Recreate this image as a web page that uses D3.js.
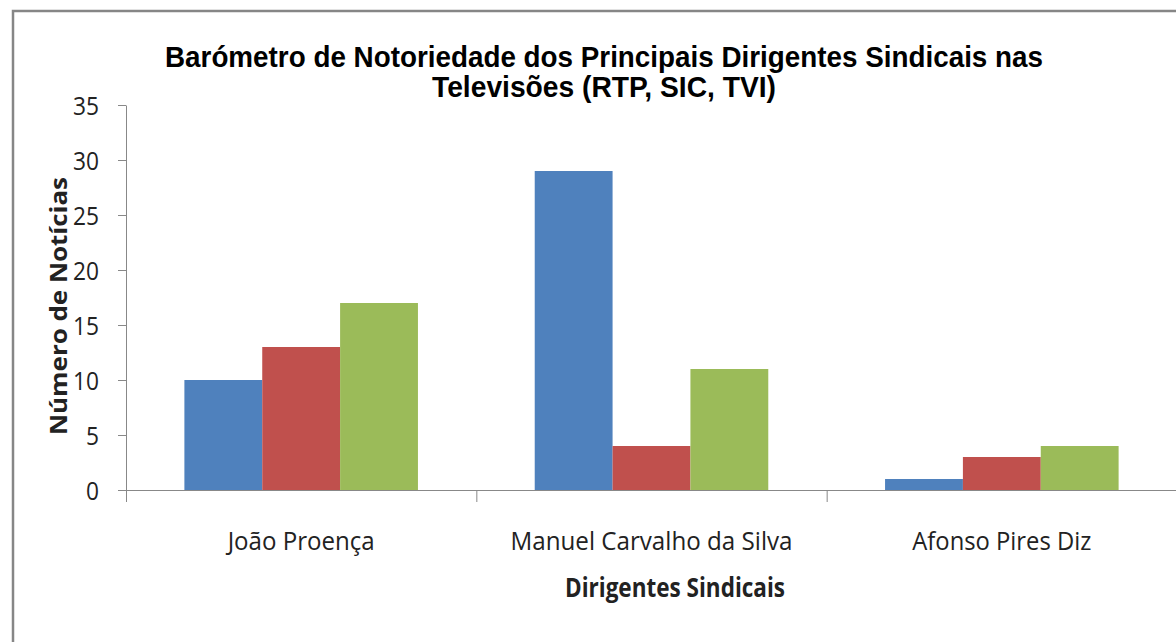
<!DOCTYPE html>
<html>
<head>
<meta charset="utf-8">
<script src="https://cdn.jsdelivr.net/npm/d3@7"></script>
<style>
  body { margin: 0; background: #fff; }
  text { font-family: "Open Sans", sans-serif; fill: #222; }
  .title { font-family: "Liberation Sans", Arial, sans-serif; font-weight: bold; fill: #000; }
</style>
</head>
<body>
<script>
// data
const dirigentes = ["João Proença", "Manuel Carvalho da Silva", "Afonso Pires Diz"];
const canais = ["RTP", "SIC", "TVI"];
const rtp = [10, 29, 1];
const sic = [13, 4, 3];
const tvi = [17, 11, 4];
const yTicks = [0, 5, 10, 15, 20, 25, 30, 35];
const colors = ["#4F81BD", "#C0504D", "#9BBB59"];

let width = 1176, height = 642;
let plotLeft = 126, plotRight = 1177, plotTop = 105, plotBottom = 490;

let svg = d3.select("body").append("svg")
  .attr("width", width)
  .attr("height", height);

// chart border (runs off the right / bottom like the original)
svg.append("rect")
  .attr("x", 13).attr("y", 11)
  .attr("width", 1200).attr("height", 700)
  .attr("fill", "none")
  .attr("stroke", "#868686")
  .attr("stroke-width", 2.5);

//title
svg.append("text")
  .attr("class", "title")
  .attr("x", 604).attr("y", 67)
  .attr("text-anchor", "middle")
  .attr("textLength", 878).attr("lengthAdjust", "spacingAndGlyphs")
  .style("font-size", "30px")
  .text("Barómetro de Notoriedade dos Principais Dirigentes Sindicais nas");
svg.append("text")
  .attr("class", "title")
  .attr("x", 604).attr("y", 97)
  .attr("text-anchor", "middle")
  .attr("textLength", 344).attr("lengthAdjust", "spacingAndGlyphs")
  .style("font-size", "30px")
  .text("Televisões (RTP, SIC, TVI)");

// scales
var yScale = d3.scaleLinear().domain([0, 35]).range([plotBottom, plotTop]);
var xScale = d3.scaleBand().domain(dirigentes).range([plotLeft, plotRight]);
var xSeries = d3.scaleBand().domain(canais).range([0, xScale.bandwidth()])
  .paddingInner(0).paddingOuter(0.75);

// bars
var rows = dirigentes.map((d, i) => ({ name: d, values: [rtp[i], sic[i], tvi[i]] }));
svg.append("g")
  .selectAll("g")
  .data(rows)
  .enter().append("g")
  .attr("transform", d => "translate(" + xScale(d.name) + ",0)")
  .selectAll("rect")
  .data(d => d.values.map((v, j) => ({ canal: canais[j], value: v, color: colors[j] })))
  .enter().append("rect")
  .attr("x", d => xSeries(d.canal))
  .attr("y", d => yScale(d.value))
  .attr("width", xSeries.bandwidth())
  .attr("height", d => yScale(0) - yScale(d.value))
  .attr("fill", d => d.color);

// y axis
var yAxis = d3.axisLeft(yScale).tickValues(yTicks).tickSize(8).tickSizeOuter(0).tickPadding(19);
var gy = svg.append("g")
  .attr("transform", "translate(" + plotLeft + ",0)")
  .call(yAxis);
gy.select(".domain").attr("stroke", "#888");
gy.selectAll(".tick line").attr("stroke", "#888");
gy.selectAll(".tick text")
  .style("font-size", "26px")
  .attr("fill", "#222")
  .attr("textLength", d => String(d).length * 13).attr("lengthAdjust", "spacingAndGlyphs")
  .attr("dy", "0.35em");

// x axis
var xAxis = d3.axisBottom(xScale).tickSize(0).tickSizeOuter(0).tickFormat("");
var gx = svg.append("g")
  .attr("transform", "translate(0," + plotBottom + ")")
  .call(xAxis);
gx.select(".domain").attr("d", "M" + (plotLeft - 8) + ",0.5H" + plotRight).attr("stroke", "#888");
// category separators
gx.selectAll("line.sep")
  .data(dirigentes.map(d => xScale(d)).concat([plotRight]))
  .enter().append("line")
  .attr("class", "sep")
  .attr("x1", d => d + 0.5).attr("x2", d => d + 0.5)
  .attr("y1", 0).attr("y2", 12)
  .attr("stroke", "#888");

var labelWidths = [147, 282, 179];
svg.append("g")
  .selectAll("text")
  .data(dirigentes)
  .enter().append("text")
  .attr("x", d => xScale(d) + xScale.bandwidth() / 2)
  .attr("y", 550)
  .attr("text-anchor", "middle")
  .attr("textLength", (d, i) => labelWidths[i]).attr("lengthAdjust", "spacingAndGlyphs")
  .style("font-size", "25px")
  .text(d => d);

// axis titles
svg.append("text")
  .attr("x", 675).attr("y", 597)
  .attr("text-anchor", "middle")
  .attr("textLength", 220).attr("lengthAdjust", "spacingAndGlyphs")
  .style("font-size", "26px").style("font-weight", "bold").attr("fill", "#111")
  .text("Dirigentes Sindicais");

svg.append("text")
  .attr("transform", "translate(67,306) rotate(-90)")
  .attr("text-anchor", "middle")
  .attr("textLength", 258).attr("lengthAdjust", "spacingAndGlyphs")
  .style("font-size", "24px").style("font-weight", "bold").attr("fill", "#111")
  .text("Número de Notícias");
</script>
</body>
</html>
